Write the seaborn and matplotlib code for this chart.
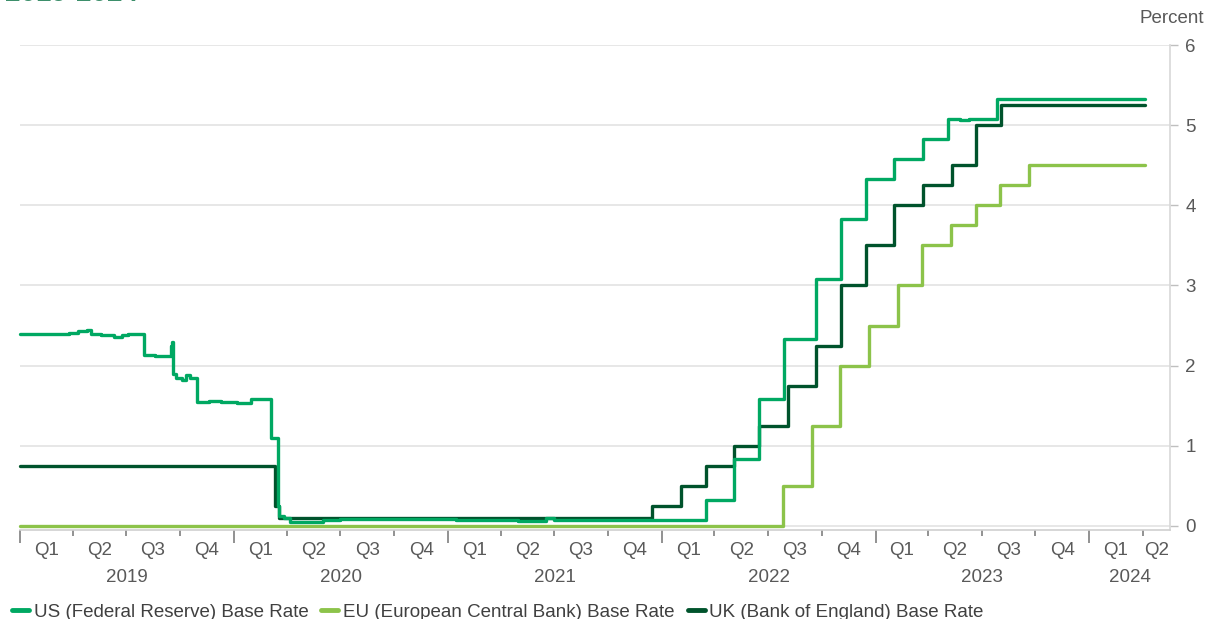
import matplotlib
matplotlib.use("Agg")
import matplotlib.pyplot as plt
import matplotlib.dates as mdates
import matplotlib.transforms as mtransforms
import seaborn as sns
import pandas as pd

# Policy rates (percent), recorded at each change
us_dates = ["2019-01-01", "2019-03-25", "2019-04-10", "2019-04-25", "2019-05-03", "2019-05-20",
            "2019-06-10", "2019-06-25", "2019-07-05", "2019-08-01", "2019-08-20", "2019-09-16",
            "2019-09-17", "2019-09-19", "2019-09-25", "2019-10-04", "2019-10-11", "2019-10-18",
            "2019-10-31", "2019-11-20", "2019-12-10", "2020-01-06", "2020-01-30", "2020-02-20",
            "2020-03-04", "2020-03-16", "2020-03-19", "2020-03-26", "2020-04-06", "2020-06-01",
            "2020-07-01", "2021-01-15", "2021-03-01", "2021-05-01", "2021-06-17", "2021-07-01",
            "2022-03-17", "2022-05-05", "2022-06-16", "2022-07-28", "2022-09-22", "2022-11-03",
            "2022-12-15", "2023-02-02", "2023-03-23", "2023-05-04", "2023-05-25", "2023-06-10",
            "2023-07-27", "2024-04-05"]
us_rates = [2.40, 2.41, 2.43, 2.45, 2.39, 2.38,
            2.36, 2.38, 2.40, 2.13, 2.12, 2.25,
            2.30, 1.90, 1.85, 1.82, 1.88, 1.85,
            1.55, 1.56, 1.55, 1.54, 1.59, 1.58,
            1.10, 0.25, 0.12, 0.10, 0.05, 0.08,
            0.09, 0.08, 0.07, 0.06, 0.10, 0.08,
            0.33, 0.83, 1.58, 2.33, 3.08, 3.83,
            4.33, 4.58, 4.83, 5.08, 5.06, 5.08,
            5.33, 5.33]

eu_dates = ["2019-01-01", "2022-07-27", "2022-09-14", "2022-11-02", "2022-12-21", "2023-02-08",
            "2023-03-22", "2023-05-10", "2023-06-21", "2023-08-02", "2023-09-20", "2024-04-05"]
eu_rates = [0.00, 0.50, 1.25, 2.00, 2.50, 3.00,
            3.50, 3.75, 4.00, 4.25, 4.50, 4.50]

uk_dates = ["2019-01-01", "2020-03-11", "2020-03-19", "2021-12-16", "2022-02-03", "2022-03-17",
            "2022-05-05", "2022-06-16", "2022-08-04", "2022-09-22", "2022-11-03", "2022-12-15",
            "2023-02-02", "2023-03-23", "2023-05-11", "2023-06-22", "2023-08-03", "2024-04-05"]
uk_rates = [0.75, 0.25, 0.10, 0.25, 0.50, 0.75,
            1.00, 1.25, 1.75, 2.25, 3.00, 3.50,
            4.00, 4.25, 4.50, 5.00, 5.25, 5.25]

series_names = ["US (Federal Reserve) Base Rate",
                "EU (European Central Bank) Base Rate",
                "UK (Bank of England) Base Rate"]
series_colors = ["#00a862", "#8cc34a", "#00532c"]
series_z = [4, 3, 3.5]

years = [2019, 2020, 2021, 2022, 2023, 2024]
quarter_labels = ["Q1", "Q2", "Q3", "Q4"]
header_text = "2019-2024"

x_start = pd.Timestamp("2019-01-01")
x_end = pd.Timestamp("2024-05-18")

sns.set_theme(style="white")
plt.rcParams["font.family"] = ["Liberation Sans", "DejaVu Sans"]

fig = plt.figure(figsize=(12.05, 6.19), dpi=100)
ax = fig.add_axes([0.0166, 0.1438, 0.9544, 0.7835])

frames = [
    pd.DataFrame({"date": pd.to_datetime(us_dates), "rate": us_rates}),
    pd.DataFrame({"date": pd.to_datetime(eu_dates), "rate": eu_rates}),
    pd.DataFrame({"date": pd.to_datetime(uk_dates), "rate": uk_rates}),
]
for df, name, col, z in zip(frames, series_names, series_colors, series_z):
    sns.lineplot(data=df, x="date", y="rate", ax=ax, color=col, label=name,
                 drawstyle="steps-post", linewidth=2.4, estimator=None, zorder=z,
                 clip_on=False)

ax.set_xlim(x_start, x_end)
ax.set_ylim(-0.05, 6)
ax.set_xlabel("")
ax.set_ylabel("")

# y axis on the right with light gridlines
ax.yaxis.tick_right()
ax.set_yticks([0, 1, 2, 3, 4, 5, 6])
ax.set_yticklabels([str(v) for v in [0, 1, 2, 3, 4, 5, 6]])
ax.grid(axis="y", color="#e3e3e3", linewidth=1.2)
ax.grid(axis="x", visible=False)
ax.tick_params(axis="y", which="major", right=True, length=6, width=1,
               color="#bfbfbf", labelsize=13.5, labelcolor="#595959", pad=5)
for side in ["left", "top"]:
    ax.spines[side].set_visible(False)
ax.spines["right"].set_color("#d9d9d9")
ax.spines["bottom"].set_color("#d0d0d0")
ax.spines["bottom"].set_linewidth(1.2)

# Year ticks (long) and quarter ticks (short) with quarter and year labels beneath
year_starts = [pd.Timestamp(f"{y}-01-01") for y in years]
quarter_starts = [pd.Timestamp(f"{y}-{m:02d}-01") for y in years for m in (1, 4, 7, 10)]
quarter_starts = [q for q in quarter_starts if q <= x_end]
ax.set_xticks(year_starts)
ax.set_xticks([q for q in quarter_starts if q.month != 1], minor=True)
ax.tick_params(axis="x", which="major", bottom=True, length=9, width=1.2,
               color="#7f7f7f", labelbottom=False)
ax.tick_params(axis="x", which="minor", bottom=True, length=4, width=1.2,
               color="#7f7f7f")

trans = mtransforms.blended_transform_factory(ax.transData, ax.transAxes)
for i, qs in enumerate(quarter_starts):
    qe = quarter_starts[i + 1] if i + 1 < len(quarter_starts) else x_end
    qe = min(qe, x_end)
    mid = qs + (qe - qs) / 2
    ax.text(mdates.date2num(mid), -0.042, quarter_labels[(qs.month - 1) // 3],
            transform=trans, ha="center", va="center", fontsize=13.5, color="#595959")
for y in years:
    ys = pd.Timestamp(f"{y}-01-01")
    ye = min(pd.Timestamp(f"{y + 1}-01-01"), x_end)
    mid = ys + (ye - ys) / 2
    ax.text(mdates.date2num(mid), -0.098, str(y), transform=trans,
            ha="center", va="center", fontsize=13.5, color="#595959")

fig.text(0.9995, 0.970, "Percent", ha="right", va="center", fontsize=13.5, color="#595959")

# Heading sits mostly above the top edge of the canvas
fig.text(0.004, 0.9985, header_text, ha="left", va="baseline", fontsize=20,
         fontweight="bold", color="#3d8f6b")

handles, labels = ax.get_legend_handles_labels()
ax.get_legend().remove()
leg = fig.legend(handles, labels, loc="lower left", bbox_to_anchor=(-0.004, -0.03),
                 ncol=3, frameon=False, fontsize=13.5, handlelength=0.9,
                 handletextpad=0.25, columnspacing=0.7, labelcolor="#404040")
for h in leg.legend_handles:
    h.set_linewidth(3.5)

fig.savefig("out.png", dpi=100)
